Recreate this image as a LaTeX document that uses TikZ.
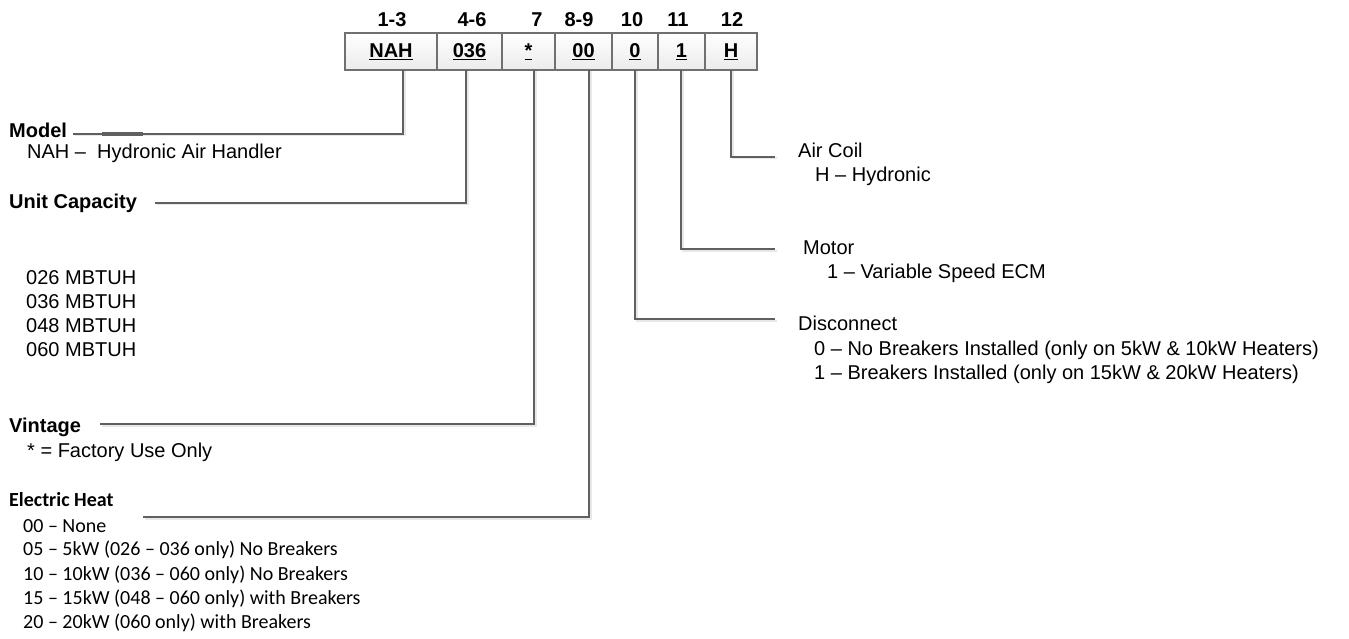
\documentclass[tikz,border=0pt]{standalone}
\usepackage{fontspec}
\setmainfont{Liberation Sans}
\newfontfamily\calfont{Carlito}
\usetikzlibrary{positioning}

\begin{document}
\begin{tikzpicture}[x=1pt,y=-1pt,
		lead/.style={draw=leadgray,line width=2pt,line join=miter,
			preaction={draw=gray!18,line width=2pt,transform canvas={shift={(1.5pt,-1.5pt)}}}},
		cell/.style={draw=cellgray,line width=2pt,top color=white,bottom color=gray!16,
			minimum height=37pt,inner sep=0pt,font=\fontsize{20}{22}\selectfont\bfseries},
		num/.style={inner sep=0pt,font=\fontsize{20}{22}\selectfont\bfseries},
		head/.style={anchor=west,inner sep=0pt,font=\fontsize{20}{24}\selectfont\bfseries},
		item/.style={anchor=west,inner sep=0pt,font=\fontsize{20}{24}\selectfont},
		calhead/.style={anchor=west,inner sep=0pt,font=\fontsize{20}{24}\selectfont\calfont\bfseries},
		calitem/.style={anchor=west,inner sep=0pt,font=\fontsize{20}{24}\selectfont\calfont}]
		\definecolor{leadgray}{RGB}{96,96,96}
		\definecolor{cellgray}{RGB}{112,112,112}

		\useasboundingbox (0,0) rectangle (1349,639);

		% digit positions
		\node[num] (n1) at (392,20) {1-3};
		\node[num] (n2) at (472,20) {4-6};
		\node[num] (n3) at (537,20) {7};
		\node[num] (n4) at (579,20) {8-9};
		\node[num] (n5) at (632,20) {10};
		\node[num] (n6) at (678,20) {11};
		\node[num] (n7) at (732,20) {12};

		% code boxes
		\node[cell,minimum width=92pt] (cNAH) at (391,52) {\underline{NAH}};
		\node[cell,minimum width=65pt] (cCap) at (469.5,52) {\underline{036}};
		\node[cell,minimum width=53pt] (cVin) at (528.5,52) {\underline{*}};
		\node[cell,minimum width=57pt] (cHeat) at (583.5,52) {\underline{00}};
		\node[cell,minimum width=46pt] (cDis) at (635,52) {\underline{0}};
		\node[cell,minimum width=47pt] (cMot) at (681.5,52) {\underline{1}};
		\node[cell,minimum width=52pt] (cCoil) at (731,52) {\underline{H}};

		% left column
		\node[head] (model) at (9,130) {Model};
		\node[item] (modelA) at (27,153) {NAH –\ \ Hydronic Air Handler};
		\node[head] (cap) at (9,203) {Unit Capacity};
		\node[item] (capA) at (26,278) {026 MBTUH};
		\node[item] (capB) at (26,302) {036 MBTUH};
		\node[item] (capC) at (26,326) {048 MBTUH};
		\node[item] (capD) at (26,350) {060 MBTUH};
		\node[head] (vin) at (9,427) {Vintage};
		\node[item] (vinA) at (27,452) {* = Factory Use Only};
		\node[calhead] (heat) at (9,500) {Electric Heat};
		\node[calitem] (heatA) at (23,526) {00 – None};
		\node[calitem] (heatB) at (23,550) {05 – 5kW (026 – 036 only) No Breakers};
		\node[calitem] (heatC) at (23,575) {10 – 10kW (036 – 060 only) No Breakers};
		\node[calitem] (heatD) at (23,599) {15 – 15kW (048 – 060 only) with Breakers};
		\node[calitem] (heatE) at (23,623) {20 – 20kW (060 only) with Breakers};

		% right column
		\node[item] (coil) at (798,150) {Air Coil};
		\node[item] (coilA) at (815,176) {H – Hydronic};
		\node[item] (mot) at (803,248) {Motor};
		\node[item] (motA) at (827,273) {1 – Variable Speed ECM};
		\node[item] (dis) at (798,323) {Disconnect};
		\node[item] (disA) at (814,350) {0 – No Breakers Installed (only on 5kW \& 10kW Heaters)};
		\node[item] (disB) at (814,374) {1 – Breakers Installed (only on 15kW \& 20kW Heaters)};

		% leader ends
		\coordinate (kNAH) at (403,70);
		\coordinate (kCap) at (466,70);
		\coordinate (kVin) at (534,70);
		\coordinate (kHeat) at (589,70);
		\coordinate (kDis) at (635,70);
		\coordinate (kMot) at (681,70);
		\coordinate (kCoil) at (731,70);
		\coordinate (eModel) at (73,134);
		\coordinate (eCap) at (155,203);
		\coordinate (eVin) at (100,424);
		\coordinate (eHeat) at (143,517);
		\coordinate (eCoil) at (775,157);
		\coordinate (eMot) at (775,249);
		\coordinate (eDis) at (775,319);

		\draw[lead] (kNAH) |- (eModel);
		\draw[draw=leadgray,line width=3.5pt] (102,134) -- (143,134);
		\draw[lead] (kCap) |- (eCap);
		\draw[lead] (kVin) |- (eVin);
		\draw[lead] (kHeat) |- (eHeat);
		\draw[lead] (kDis) |- (eDis);
		\draw[lead] (kMot) |- (eMot);
		\draw[lead] (kCoil) |- (eCoil);

\end{tikzpicture}
\end{document}
